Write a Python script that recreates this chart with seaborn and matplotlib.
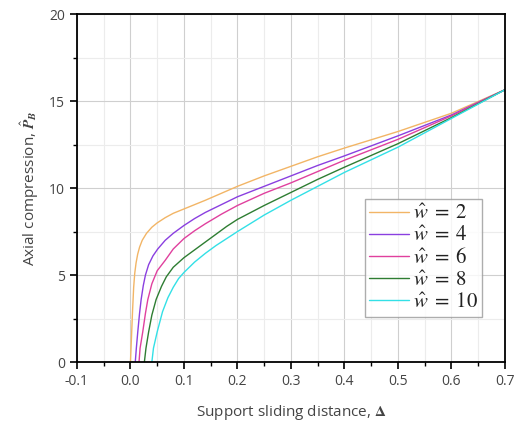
import numpy as np
import pandas as pd
import matplotlib
matplotlib.use("Agg")
import matplotlib.pyplot as plt
import seaborn as sns
from matplotlib.ticker import MultipleLocator

# ---- data ----
w_values = [2, 4, 6, 8, 10]
delta_w2 = [0.000, 0.002, 0.004, 0.006, 0.008, 0.0105, 0.0135, 0.017, 0.022, 0.030, 0.040, 0.050, 0.065, 0.080, 0.100, 0.120, 0.140, 0.170, 0.200, 0.250, 0.300, 0.350, 0.400, 0.500, 0.600, 0.700]
p_w2 = [0.0, 1.5, 3.0, 4.3, 5.1, 5.7, 6.2, 6.6, 7.0, 7.4, 7.75, 8.0, 8.3, 8.55, 8.8, 9.05, 9.3, 9.7, 10.1, 10.7, 11.25, 11.8, 12.3, 13.25, 14.3, 15.65]
delta_w4 = [0.009, 0.011, 0.0137, 0.017, 0.020, 0.024, 0.028, 0.034, 0.042, 0.051, 0.065, 0.080, 0.100, 0.120, 0.140, 0.170, 0.200, 0.250, 0.300, 0.350, 0.400, 0.500, 0.600, 0.700]
p_w4 = [0.0, 0.8, 1.74, 2.8, 3.6, 4.4, 5.0, 5.6, 6.1, 6.5, 7.0, 7.4, 7.85, 8.25, 8.6, 9.05, 9.5, 10.1, 10.7, 11.3, 11.85, 13.0, 14.2, 15.65]
delta_w6 = [0.016, 0.018, 0.023, 0.028, 0.0325, 0.040, 0.050, 0.065, 0.080, 0.100, 0.120, 0.140, 0.170, 0.200, 0.250, 0.300, 0.350, 0.400, 0.500, 0.600, 0.700]
p_w6 = [0.0, 0.8, 1.74, 2.8, 3.6, 4.5, 5.25, 5.85, 6.5, 7.1, 7.55, 7.95, 8.5, 9.0, 9.7, 10.3, 10.95, 11.6, 12.8, 14.15, 15.65]
delta_w8 = [0.026, 0.029, 0.034, 0.040, 0.048, 0.058, 0.067, 0.080, 0.100, 0.120, 0.140, 0.160, 0.180, 0.200, 0.250, 0.300, 0.350, 0.400, 0.500, 0.600, 0.700]
p_w8 = [0.0, 0.8, 1.74, 2.7, 3.6, 4.35, 4.9, 5.45, 6.0, 6.45, 6.9, 7.35, 7.8, 8.2, 9.0, 9.75, 10.5, 11.2, 12.55, 14.05, 15.65]
delta_w10 = [0.040, 0.043, 0.050, 0.060, 0.070, 0.080, 0.090, 0.100, 0.120, 0.140, 0.160, 0.180, 0.200, 0.250, 0.300, 0.350, 0.400, 0.500, 0.600, 0.700]
p_w10 = [0.0, 0.8, 1.74, 2.9, 3.7, 4.3, 4.8, 5.15, 5.75, 6.25, 6.7, 7.1, 7.5, 8.45, 9.3, 10.1, 10.9, 12.35, 14.0, 15.65]

x_ticks = [-0.1, 0.0, 0.1, 0.2, 0.3, 0.4, 0.5, 0.6, 0.7]
x_ticklabels = ["-0.1", "0.0", "0.1", "0.2", "0.3", "0.4", "0.5", "0.6", "0.7"]
y_ticks = [0, 5, 10, 15, 20]

colors = ["#F2B566", "#8A3FE0", "#E0409E", "#2E7D32", "#33E0E6"]

series_x = [delta_w2, delta_w4, delta_w6, delta_w8, delta_w10]
series_y = [p_w2, p_w4, p_w6, p_w8, p_w10]
labels = [r"$\hat{w}\;=\;%d$" % w for w in w_values]
frames = []
for lab, xs, ys in zip(labels, series_x, series_y):
    frames.append(pd.DataFrame({"delta": xs, "P": ys, "series": lab}))
df = pd.concat(frames, ignore_index=True)

sns.set_style("white")
plt.rcParams["font.family"] = ["Open Sans", "DejaVu Sans"]
plt.rcParams["mathtext.fontset"] = "stix"

fig = plt.figure(figsize=(5.2, 4.26), dpi=100)
ax = fig.add_axes([0.148, 0.150, 0.823, 0.817])

sns.lineplot(data=df, x="delta", y="P", hue="series", hue_order=labels,
             palette=dict(zip(labels, colors)), sort=False, estimator=None,
             linewidth=1.0, ax=ax)

ax.set_xlim(-0.1, 0.7)
ax.set_ylim(0, 20)
ax.set_xticks(x_ticks)
ax.set_xticklabels(x_ticklabels)
ax.set_yticks(y_ticks)
ax.xaxis.set_minor_locator(MultipleLocator(0.05))
ax.yaxis.set_minor_locator(MultipleLocator(2.5))
ax.grid(True, which="major", color="#cfcfcf", linewidth=0.8)
ax.grid(True, which="minor", color="#ececec", linewidth=0.8)
ax.set_axisbelow(True)

for s in ax.spines.values():
    s.set_color("black")
    s.set_linewidth(1.3)
ax.tick_params(axis="both", which="major", direction="out", length=5, width=1.2,
               color="black", labelsize=10, labelcolor="#444444",
               bottom=True, left=True, top=False, right=False)
ax.tick_params(axis="both", which="minor", direction="out", length=3, width=1.0,
               color="black", bottom=True, left=True, top=False, right=False)

ax.set_xlabel(r"Support sliding distance, $\mathbf{\Delta}$", fontsize=11, color="#444444", labelpad=10)
ax.set_ylabel(r"Axial compression, $\hat{\mathbfit{P}}_{\mathbfit{B}}$",
              fontsize=11, color="#444444", labelpad=6)

leg = ax.legend(loc="upper left", bbox_to_anchor=(0.673, 0.468), fontsize=15,
                frameon=True, fancybox=False, edgecolor="#999999",
                handlelength=1.9, labelspacing=0.05, borderpad=0.2,
                handletextpad=0.2, borderaxespad=0)
leg.get_frame().set_linewidth(1.0)
for t in leg.get_texts():
    t.set_color("#222222")

fig.savefig("out.png", dpi=100)
